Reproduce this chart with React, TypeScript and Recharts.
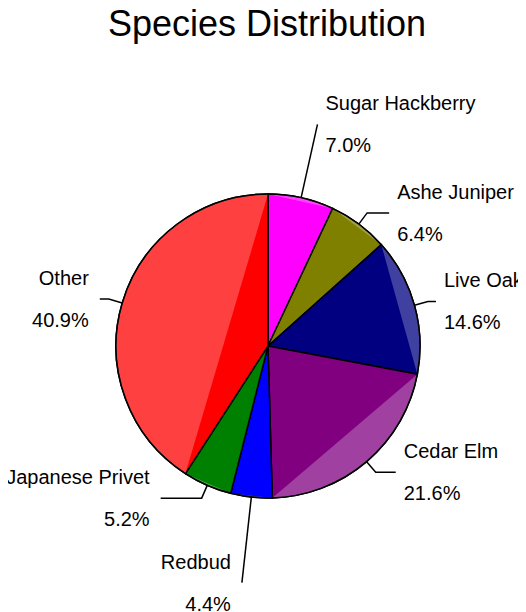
import { PieChart, Pie, Cell } from "recharts";

const species = [
  "Sugar Hackberry",
  "Ashe Juniper",
  "Live Oak",
  "Cedar Elm",
  "Redbud",
  "Japanese Privet",
  "Other",
];
const shares = [7.0, 6.4, 14.6, 21.6, 4.4, 5.2, 40.9];
const COLORS = ["#FF00FF", "#808000", "#000080", "#800080", "#0000FF", "#008000", "#FF0000"];

// leader line layout: radial extension past the rim, then horizontal run
const LEADER_EXT = [75, 14, 14, 14, 86, 14, 14];
const LEADER_RUN = [0, 22, 8, 20, 0, 41, 9];

const data = species.map((name, i) => ({ name, value: shares[i] }));

const RADIAN = Math.PI / 180;
const FONT = "'Liberation Sans', Arial, Helvetica, sans-serif";

const polar = (cx: number, cy: number, r: number, deg: number) => [
  cx + r * Math.cos(-deg * RADIAN),
  cy + r * Math.sin(-deg * RADIAN),
];

const renderLabel = (props: any) => {
  const { cx, cy, midAngle, outerRadius, index, startAngle, endAngle } = props;
  const cos = Math.cos(-midAngle * RADIAN);
  const sin = Math.sin(-midAngle * RADIAN);
  const sx = cx + outerRadius * cos;
  const sy = cy + outerRadius * sin;
  const r2 = outerRadius + LEADER_EXT[index];
  const mx = cx + r2 * cos;
  const my = cy + r2 * sin;
  const right = cos >= 0;
  const ex = mx + (right ? 1 : -1) * LEADER_RUN[index];
  const ey = my;
  const tx = right ? ex + 8 : ex - 11;
  const anchor = right ? "start" : "end";

  // lighter rim segment (outside the chord), like the old device's fill artefact
  const [ax, ay] = polar(cx, cy, outerRadius, startAngle);
  const [bx, by] = polar(cx, cy, outerRadius, endAngle);
  const large = Math.abs(endAngle - startAngle) > 180 ? 1 : 0;
  const sweep = endAngle < startAngle ? 1 : 0;
  const arc = `M${ax},${ay} A${outerRadius},${outerRadius} 0 ${large} ${sweep} ${bx},${by}`;

  return (
    <g>
      <path d={`${arc} Z`} fill="#fff" fillOpacity={0.25} stroke="none" />
      <path d={arc} fill="none" stroke="#000" strokeWidth={1.5} />
      <polyline
        points={`${sx},${sy} ${mx},${my} ${ex},${ey}`}
        fill="none"
        stroke="#000"
        strokeWidth={1.5}
      />
      <text x={tx} y={ey - 14} textAnchor={anchor} fontSize={20} fontFamily={FONT} fill="#000">
        {species[index]}
      </text>
      <text x={tx} y={ey + 28} textAnchor={anchor} fontSize={20} fontFamily={FONT} fill="#000">
        {shares[index].toFixed(1)}%
      </text>
    </g>
  );
};

export default function App() {
  return (
    <div style={{ position: "relative", width: 526, height: 612, margin: "-8px 0 0 -8px" }}>
      <div
        style={{
          position: "absolute",
          left: 0,
          top: 2,
          width: 534,
          textAlign: "center",
          fontFamily: FONT,
          fontSize: 36,
          color: "#000",
          lineHeight: "44px",
        }}
      >
        Species Distribution
      </div>
      <PieChart width={526} height={612} margin={{ top: 0, right: 0, bottom: 0, left: 0 }}>
        <Pie
          data={data}
          dataKey="value"
          nameKey="name"
          cx={268}
          cy={346}
          outerRadius={152}
          startAngle={90}
          endAngle={-270}
          stroke="#000"
          strokeWidth={1.5}
          labelLine={false}
          label={renderLabel}
          isAnimationActive={false}
        >
          {data.map((entry, index) => (
            <Cell key={`cell-${index}`} fill={COLORS[index % COLORS.length]} />
          ))}
        </Pie>
      </PieChart>
    </div>
  );
}
